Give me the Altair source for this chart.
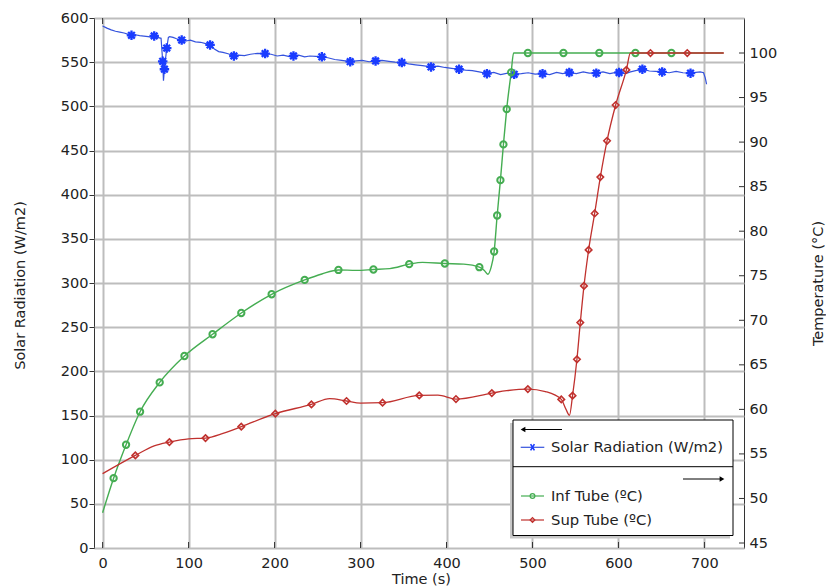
import altair as alt
import pandas as pd

# ---- Solar radiation trace (W/m2) vs time (s) ----
rad_time = [0, 5, 10, 15, 20, 25, 30, 33.6, 38, 43, 48, 53, 57, 60, 64, 68,
            69.9, 70.8, 71.9, 74.6, 76.5, 78, 82, 86, 92, 97, 102, 108, 114,
            120, 125, 130, 135, 140, 146, 152.7, 158, 165, 172, 180, 189, 196,
            203, 210, 216, 222, 228, 235, 241, 248, 255, 262, 270, 278, 288,
            295, 302, 310, 317.5, 325, 333, 340, 348, 356, 364, 372, 382, 390,
            398, 406, 414.6, 422, 430, 438, 447, 455, 463, 471, 478.7, 487,
            495, 503, 511.7, 520, 528, 535, 542.8, 551, 559, 566, 574.2, 582,
            590, 597, 600.7, 608, 614, 620, 627.8, 636, 643, 650.8, 659, 667,
            675, 683.8, 690, 695, 699, 701, 702.5]
rad_value = [591, 588.5, 586.5, 585, 584, 583, 581.5, 580.4, 581, 580, 579.5,
             579, 578, 579.7, 578, 577, 551, 529, 542, 566, 578, 579, 578,
             576.5, 575, 574, 575, 573, 572.5, 571, 569.5, 565, 562, 561,
             559.5, 557, 558, 557.5, 559, 560, 559.7, 559, 557, 558, 556.5,
             557, 558, 556, 557, 556.5, 556, 555, 553, 552, 550.6, 551.5, 552,
             550.5, 551.4, 552, 551, 550, 549.5, 548, 547, 546, 544.6, 545.5,
             544, 543, 542, 541, 540.5, 539, 537, 538.5, 536, 537.5, 536.2,
             537, 538, 536.5, 537, 536, 538.5, 537, 538.3, 537, 539, 537.5,
             537.6, 539, 537, 538.5, 538.3, 537, 539, 540.5, 542, 540, 539.5,
             539, 538, 539.5, 538, 537.5, 538.5, 539, 538, 532, 525]
rad_mark_time = [33.6, 60, 69.9, 71.9, 74.6, 92, 125, 152.7, 189, 222, 255,
                 288, 317.5, 348, 382, 414.6, 447, 478.7, 511.7, 542.8, 574.2,
                 600.7, 627.8, 650.8, 683.8]
rad_mark_value = [580.4, 579.7, 551, 542, 566, 575, 569.5, 557, 559.7, 557,
                  556, 550.6, 551.4, 549.5, 544.6, 542, 537, 536.2, 537, 538.3,
                  537.6, 538.3, 542, 539, 537.5]

# ---- Inf Tube temperature (ºC) ----
inf_time = [0, 12.8, 27.3, 43.6, 66.4, 95.2, 127.9, 161.3, 196.6, 235, 255,
            274.3, 295, 315, 334, 356.6, 372, 398, 420, 438.2, 444, 448, 452,
            455.4, 458.9, 462.7, 466.2, 470, 475.2, 478, 494.6, 536, 577.7,
            619.7, 661.6, 722]
inf_temp = [48.4, 52.28, 56.03, 59.74, 63.03, 65.99, 68.43, 70.82, 72.92,
            74.53, 75.2, 75.65, 75.6, 75.7, 75.8, 76.3, 76.5, 76.37, 76.3,
            75.96, 75.6, 75.17, 76.0, 77.72, 81.76, 85.73, 89.74, 93.7, 97.83,
            100, 100, 100, 100, 100, 100, 100]
inf_mark_time = [12.8, 27.3, 43.6, 66.4, 95.2, 127.9, 161.3, 196.6, 235,
                 274.3, 315, 356.6, 398, 438.2, 455.4, 458.9, 462.7, 466.2,
                 470, 475.2, 494.6, 536, 577.7, 619.7, 661.6]
inf_mark_temp = [52.28, 56.03, 59.74, 63.03, 65.99, 68.43, 70.82, 72.92, 74.53,
                 75.65, 75.7, 76.3, 76.37, 75.96, 77.72, 81.76, 85.73, 89.74,
                 93.7, 97.83, 100, 100, 100, 100, 100]

# ---- Sup Tube temperature (ºC) ----
sup_time = [0, 38.1, 60, 77.7, 100, 119.7, 140, 161.3, 200.9, 242.9, 264.2,
            283.7, 300, 325.6, 368.3, 390, 411, 452.7, 470, 494.6, 515, 533.5,
            539, 543, 546.6, 551.7, 555.6, 559.9, 565.3, 572.3, 578.9, 586.7,
            596.7, 609.2, 613.9, 637.2, 680, 722.6]
sup_temp = [52.78, 54.83, 55.9, 56.33, 56.7, 56.78, 57.3, 58.06, 59.52, 60.56,
            61.2, 60.94, 60.7, 60.75, 61.57, 61.6, 61.16, 61.83, 62.1, 62.28,
            62.0, 61.12, 60.0, 59.33, 61.54, 65.62, 69.74, 73.86, 77.9, 81.99,
            86.07, 90.15, 94.16, 98.1, 100, 100, 100, 100]
sup_mark_time = [38.1, 77.7, 119.7, 161.3, 200.9, 242.9, 283.7, 325.6, 368.3,
                 411, 452.7, 494.6, 533.5, 546.6, 551.7, 555.6, 559.9, 565.3,
                 572.3, 578.9, 586.7, 596.7, 609.2, 637.2, 680]
sup_mark_temp = [54.83, 56.33, 56.78, 58.06, 59.52, 60.56, 60.94, 60.75, 61.57,
                 61.16, 61.83, 62.28, 61.12, 61.54, 65.62, 69.74, 73.86, 77.9,
                 81.99, 86.07, 90.15, 94.16, 98.1, 100, 100]

# ---- axis tick values ----
time_ticks = [0, 100, 200, 300, 400, 500, 600, 700]
rad_ticks = [0, 50, 100, 150, 200, 250, 300, 350, 400, 450, 500, 550, 600]
temp_ticks = [45, 50, 55, 60, 65, 70, 75, 80, 85, 90, 95, 100]

W, H = 650, 530
FONT = "DejaVu Sans"
TXT = "#222222"
GRID = "#bdbdbd"
DARK = "#333333"

BLUE_LINE = "#3553dd"
BLUE_MARK = "#1a3cff"
GREEN = "#45ad52"
RED = "#c0312e"

ASTERISK = "M0,-1L0,1M-1,0L1,0M-0.7,-0.7L0.7,0.7M-0.7,0.7L0.7,-0.7"
XMARK = "M-0.6,-1L0.6,1M-0.6,1L0.6,-1"

rad_df = pd.DataFrame({"t": rad_time, "v": rad_value})
rad_mk = pd.DataFrame({"t": rad_mark_time, "v": rad_mark_value})
inf_df = pd.DataFrame({"t": inf_time, "T": inf_temp})
inf_mk = pd.DataFrame({"t": inf_mark_time, "T": inf_mark_temp})
sup_df = pd.DataFrame({"t": sup_time, "T": sup_temp})
sup_mk = pd.DataFrame({"t": sup_mark_time, "T": sup_mark_temp})
xt_df = pd.DataFrame({"t": time_ticks})
yt_df = pd.DataFrame({"T": temp_ticks})
one = pd.DataFrame({"k": [0]})

x_axis = alt.Axis(
    values=time_ticks, title="Time (s)", grid=True, gridColor=GRID,
    gridWidth=2, ticks=False, domain=False, labelFlush=False,
    labelOverlap=False, labelFont=FONT, labelFontSize=14.5, labelColor=TXT,
    labelPadding=8, titleFont=FONT, titleFontSize=14.5, titleColor=TXT,
    titleFontWeight="normal", titleX=327, titleY=31, titleAlign="center",
    titleBaseline="middle",
)
x_enc = alt.X("t:Q", scale=alt.Scale(domain=[-10, 746], nice=False, zero=False),
              axis=x_axis)

rad_axis = alt.Axis(
    orient="left", values=rad_ticks, title="Solar Radiation (W/m2)",
    grid=True, gridColor=GRID, gridWidth=2, tickSize=5, tickColor=DARK,
    domain=False, labelFont=FONT, labelFontSize=14.5, labelColor=TXT,
    labelPadding=1, labelOverlap=False, labelFlush=False,
    titleFont=FONT, titleFontSize=14.5, titleColor=TXT,
    titleFontWeight="normal", titleAngle=270, titleX=-74, titleY=267,
    titleAlign="center", titleBaseline="middle",
)
rad_enc = alt.Y("v:Q", scale=alt.Scale(domain=[0, 600], nice=False), axis=rad_axis)

temp_axis = alt.Axis(
    orient="right", values=temp_ticks, title="Temperature (°C)", grid=False,
    ticks=False, domain=False, labelFont=FONT, labelFontSize=14.5,
    labelColor=TXT, labelPadding=5, labelOverlap=False, labelFlush=False,
    titleFont=FONT, titleFontSize=14.5, titleColor=TXT,
    titleFontWeight="normal", titleAngle=270, titleX=74, titleY=265,
    titleAlign="center", titleBaseline="middle",
)
temp_enc = alt.Y("T:Q", scale=alt.Scale(domain=[44.44, 103.93], nice=False,
                                        zero=False), axis=temp_axis)

# left-axis group: solar radiation
rad_line = alt.Chart(rad_df).mark_line(color=BLUE_LINE, strokeWidth=1.2).encode(
    x=x_enc, y=rad_enc, order="t:Q")
rad_pts = alt.Chart(rad_mk).mark_point(
    shape=ASTERISK, size=90, filled=False, strokeWidth=2.3, color=BLUE_MARK,
    opacity=1).encode(x=x_enc, y=rad_enc)
left = alt.layer(rad_line, rad_pts)

# right-axis group: tube temperatures
inf_line = alt.Chart(inf_df).mark_line(
    color=GREEN, strokeWidth=1.4, interpolate="monotone").encode(
    x=x_enc, y=temp_enc, order="t:Q")
inf_pts = alt.Chart(inf_mk).mark_point(
    shape="circle", size=40, filled=False, strokeWidth=2, color=GREEN,
    opacity=1).encode(x=x_enc, y=temp_enc)
sup_line = alt.Chart(sup_df).mark_line(
    color=RED, strokeWidth=1.3, interpolate="monotone").encode(
    x=x_enc, y=temp_enc, order="t:Q")
sup_pts = alt.Chart(sup_mk).mark_point(
    shape="diamond", size=42, filled=False, strokeWidth=1.6, color=RED,
    opacity=1).encode(x=x_enc, y=temp_enc)
temp_ticks_in = alt.Chart(yt_df).mark_rule(color=DARK, strokeWidth=1).encode(
    y=temp_enc, x=alt.value(W - 5), x2=alt.value(W))
right = alt.layer(inf_line, inf_pts, sup_line, sup_pts, temp_ticks_in)

# inward time ticks on the bottom and top edges
xt_bottom = alt.Chart(xt_df).mark_rule(color=DARK, strokeWidth=1).encode(
    x=x_enc, y=alt.value(H), y2=alt.value(H - 6))
xt_top = alt.Chart(xt_df).mark_rule(color=DARK, strokeWidth=1).encode(
    x=x_enc, y=alt.value(0), y2=alt.value(6))

# ---- legend box ----
LX0, LX1, LY0, LY1 = 419, 639, 402, 517.5


def rule(x0, x1, y, color="#000000", width=1.0):
    return alt.Chart(one).mark_rule(color=color, strokeWidth=width).encode(
        x=alt.value(x0), x2=alt.value(x1), y=alt.value(y))


def sym(x, y, shape, size, color, width):
    return alt.Chart(one).mark_point(
        shape=shape, size=size, filled=False, strokeWidth=width, color=color,
        opacity=1).encode(x=alt.value(x), y=alt.value(y))


def tri(x, y, shape):
    return alt.Chart(one).mark_point(
        shape=shape, size=30, filled=True, color="#000000", opacity=1).encode(
        x=alt.value(x), y=alt.value(y))


def label(x, y, s):
    return alt.Chart(one).mark_text(
        align="left", baseline="middle", font=FONT, fontSize=14.8,
        color=TXT).encode(x=alt.value(x), y=alt.value(y), text=alt.value(s))


shadow = alt.Chart(one).mark_rect(color="#c8c8c8").encode(
    x=alt.value(LX0 - 3), x2=alt.value(LX1 - 3),
    y=alt.value(LY0 + 3), y2=alt.value(LY1 + 3))
box = alt.Chart(one).mark_rect(fill="white", stroke="#000000",
                               strokeWidth=1).encode(
    x=alt.value(LX0), x2=alt.value(LX1), y=alt.value(LY0), y2=alt.value(LY1))

legend = [
    shadow, box,
    rule(430, 468, 411.5), tri(429, 411.5, "triangle-left"),
    rule(426.7, 450.3, 429.3, BLUE_LINE, 1.2),
    sym(438.5, 429.3, XMARK, 40, BLUE_MARK, 1.6),
    label(457, 429.5, "Solar Radiation (W/m2)"),
    rule(LX0, LX1, 448.7),
    rule(589, 627, 461), tri(628, 461, "triangle-right"),
    rule(427, 450, 478, GREEN, 1.2),
    sym(438.5, 478, "circle", 22, GREEN, 1.3),
    label(457, 478.5, "Inf Tube (ºC)"),
    rule(427, 450, 502, RED, 1.2),
    sym(438.5, 502, "diamond", 22, RED, 1.3),
    label(457, 502.5, "Sup Tube (ºC)"),
]

chart = alt.layer(left, right, xt_bottom, xt_top, *legend).resolve_scale(
    y="independent"
).properties(
    width=W, height=H,
    autosize=alt.AutoSizeParams(type="none"),
    padding={"left": 94, "top": 18, "right": 82, "bottom": 40},
    background="white",
).configure_view(stroke=DARK, strokeWidth=1)

chart.save("out.html", embed_options={"renderer": "svg", "actions": False})
